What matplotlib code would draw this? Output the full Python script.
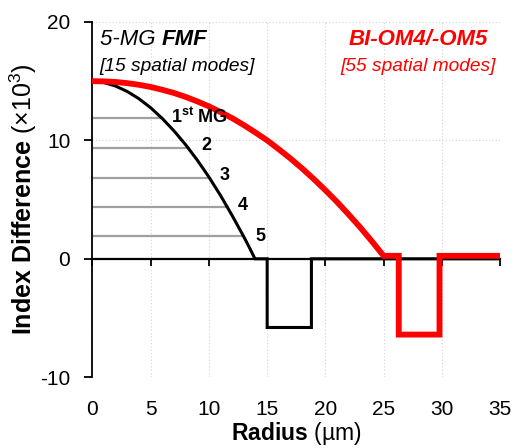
import matplotlib.pyplot as plt

# refractive index difference profiles (x10^3) vs radius (um)
fmf_r = [0, 1, 2, 3, 4, 5, 6, 7, 8, 9, 10, 11, 12, 13, 13.5, 13.95, 15.0, 15.0, 18.8, 18.8, 35]
fmf_dn = [15.0, 14.88, 14.58, 14.12, 13.51, 12.75, 11.84, 10.8, 9.63, 8.33, 6.9, 5.34, 3.64, 1.85, 0.9,
          0.0, 0.0, -5.8, -5.8, 0.0, 0.0]

om_r = [0, 1, 2, 3, 4, 5, 6, 7, 8, 9, 10, 11, 12, 13, 14, 15, 16, 17, 18, 19, 20, 21, 22, 23, 24, 25.0,
        26.3, 26.3, 29.8, 29.8, 35]
om_dn = [15.0, 14.98, 14.93, 14.83, 14.69, 14.51, 14.27, 14.0, 13.67, 13.29, 12.87, 12.39, 11.87, 11.29,
         10.66, 10.0, 9.25, 8.47, 7.63, 6.74, 5.79, 4.8, 3.74, 2.64, 1.47, 0.25, 0.25, -6.4, -6.4, 0.25, 0.25]

# mode group effective index levels and where they meet the FMF profile
mg_levels = [11.9, 9.35, 6.84, 4.38, 1.95]
mg_edges = [5.94, 8.3, 10.07, 11.62, 12.94]
mg_labels = [r'$\mathbf{1^{st}\ MG}$', '2', '3', '4', '5']
mg_label_r = [6.7, 9.37, 10.94, 12.46, 14.0]
mg_label_y = [12.0, 9.53, 7.0, 4.47, 1.9]

plt.rcParams['font.family'] = ['Liberation Sans', 'DejaVu Sans']
plt.rcParams['axes.unicode_minus'] = False
plt.rcParams['mathtext.fontset'] = 'custom'
plt.rcParams['mathtext.rm'] = 'Liberation Sans'
plt.rcParams['mathtext.bf'] = 'Liberation Sans:bold'
plt.rcParams['mathtext.it'] = 'Liberation Sans:italic'

fig = plt.figure(figsize=(5.15, 4.48), dpi=100)
ax = fig.add_axes([0.1796, 0.158, 0.7914, 0.793])

ax.set_xlim(0, 35)
ax.set_ylim(-10, 20)
ax.set_xticks(range(0, 40, 5))
ax.set_yticks([-10, 0, 10, 20])
ax.grid(True, linestyle=(0, (1, 2)), color='#d4d4d4', linewidth=0.8)
ax.set_axisbelow(True)

for lvl, edge in zip(mg_levels, mg_edges):
    ax.plot([0, edge], [lvl, lvl], color='#a0a0a0', linewidth=1.6, zorder=2)

ax.plot(om_r, om_dn, color='#ff0000', linewidth=4.2, solid_joinstyle='miter', zorder=4)
ax.plot(fmf_r, fmf_dn, color='black', linewidth=2.2, solid_joinstyle='miter', zorder=3)

for lab, r, y in zip(mg_labels, mg_label_r, mg_label_y):
    ax.text(r, y, lab, fontsize=13, fontweight='bold', ha='left', va='center', zorder=5)

# spines: x axis crossing at zero, labels kept at the bottom
for s in ['top', 'right']:
    ax.spines[s].set_visible(False)
ax.spines['bottom'].set_position(('data', 0))
ax.spines['bottom'].set_linewidth(1.6)
ax.spines['left'].set_linewidth(1.3)
ax.tick_params(axis='x', direction='out', length=5, width=1.3, labelsize=15, pad=97)
ax.tick_params(axis='y', direction='out', length=6, width=1.3, labelsize=15, pad=10)

ax.set_xlabel(r'$\mathbf{Radius}$ (µm)', fontsize=16.5, labelpad=0.5)
ax.set_ylabel(r'$\mathbf{Index\ Difference}$ (×10$^{3}$)', fontsize=18, labelpad=1)

t1 = ax.text(0.65, 18.5, '5-MG ', fontsize=16, fontstyle='italic', ha='left', va='center')
ax.annotate('FMF', xy=(1, 0), xycoords=t1, fontsize=16, fontstyle='italic', fontweight='bold',
            ha='left', va='bottom')
ax.text(0.6, 16.2, '[15 spatial modes]', fontsize=13.8, fontstyle='italic', ha='left', va='center')

ax.text(34.0, 18.5, 'BI-OM4/-OM5', fontsize=16, fontstyle='italic', fontweight='bold',
        color='#ff0000', ha='right', va='center')
ax.text(34.6, 16.2, '[55 spatial modes]', fontsize=13.8, fontstyle='italic', color='#ff0000',
        ha='right', va='center')

fig.savefig('out.png', dpi=100)
